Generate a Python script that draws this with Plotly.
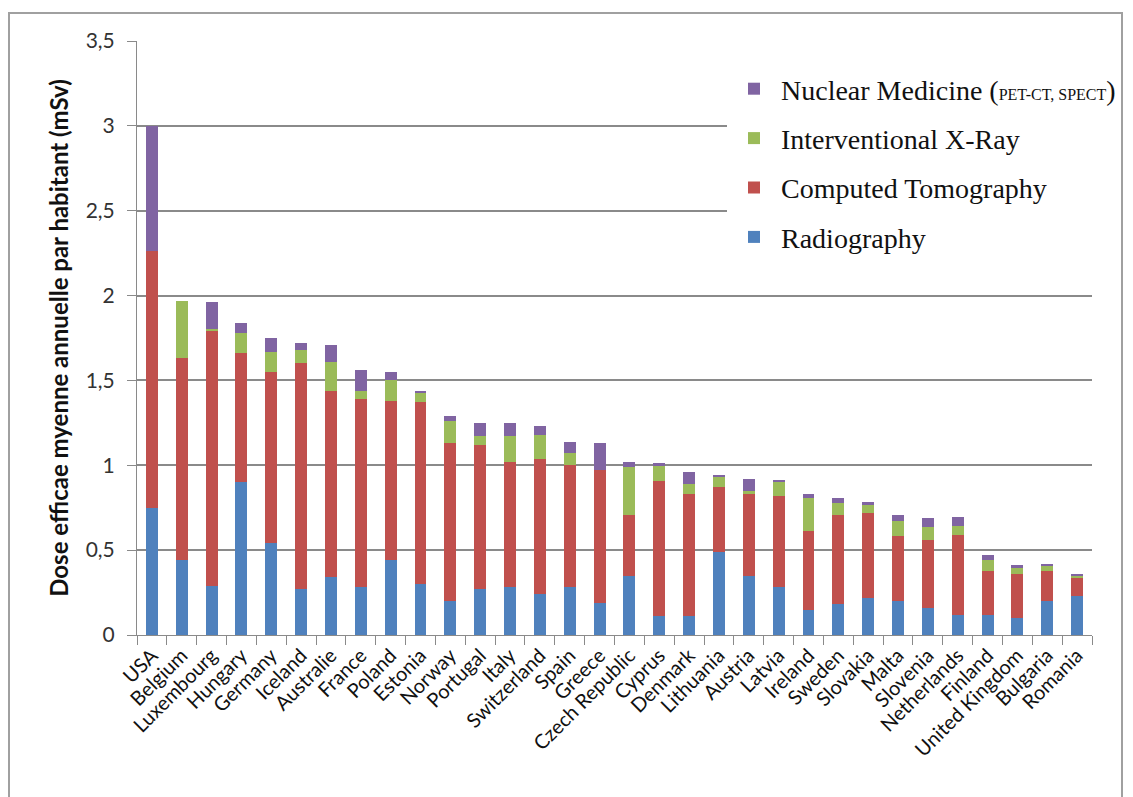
import plotly.graph_objects as go

countries = ["USA", "Belgium", "Luxembourg", "Hungary", "Germany", "Iceland", "Australie", "France",
             "Poland", "Estonia", "Norway", "Portugal", "Italy", "Switzerland", "Spain", "Greece",
             "Czech Republic", "Cyprus", "Denmark", "Lithuania", "Austria", "Latvia", "Ireland", "Sweden",
             "Slovakia", "Malta", "Slovenia", "Netherlands", "Finland", "United Kingdom", "Bulgaria", "Romania"]

radiography = [0.75, 0.44, 0.29, 0.90, 0.54, 0.27, 0.34, 0.28,
               0.44, 0.30, 0.20, 0.27, 0.28, 0.24, 0.28, 0.19,
               0.35, 0.11, 0.11, 0.49, 0.35, 0.28, 0.15, 0.18,
               0.22, 0.20, 0.16, 0.12, 0.12, 0.10, 0.20, 0.23]
computed_tomography = [1.51, 1.19, 1.50, 0.76, 1.01, 1.33, 1.10, 1.11,
                       0.94, 1.07, 0.93, 0.85, 0.74, 0.80, 0.72, 0.78,
                       0.36, 0.80, 0.72, 0.38, 0.48, 0.54, 0.46, 0.53,
                       0.50, 0.385, 0.40, 0.47, 0.26, 0.26, 0.18, 0.11]
interventional = [0.0, 0.34, 0.015, 0.12, 0.12, 0.08, 0.17, 0.05,
                  0.12, 0.06, 0.13, 0.05, 0.15, 0.14, 0.07, 0.0,
                  0.28, 0.085, 0.06, 0.06, 0.02, 0.08, 0.20, 0.07,
                  0.045, 0.085, 0.075, 0.055, 0.06, 0.035, 0.03, 0.008]
nuclear = [0.74, 0.0, 0.155, 0.06, 0.08, 0.04, 0.10, 0.12,
           0.05, 0.01, 0.03, 0.08, 0.08, 0.05, 0.065, 0.16,
           0.03, 0.02, 0.07, 0.015, 0.07, 0.015, 0.02, 0.03,
           0.02, 0.035, 0.055, 0.05, 0.03, 0.02, 0.01, 0.006]

series = [
    ("Radiography", radiography, "#4F81BD", 4),
    ("Computed Tomography", computed_tomography, "#C0504D", 3),
    ("Interventional X-Ray", interventional, "#9BBB59", 2),
    ("Nuclear Medicine (<span style='font-size:16px'>PET-CT, SPECT</span>)", nuclear, "#8064A2", 1),
]

fig = go.Figure()
for i, (name, vals, col, rank) in enumerate(series):
    fig.add_trace(go.Bar(x=countries, y=vals, name=name, legendgroup=f"g{i}", legendrank=rank,
                         marker=dict(color=col, line=dict(width=0))))

# figure is made wider than the window so the legend never pushes the margins
W, H = 1220, 797
OFF = 8  # page body margin
PL, PR, PT, PB = 137, 1092, 41, 635  # plot area in page pixels
L = PL - OFF
T = PT - OFF
R = W + OFF - PR
B = H - T - (PB - PT)
pw, ph = PR - PL, PB - PT

def px_x(p):
    return (p - PL) / pw

def px_y(p):
    return (PB - p) / ph

fig.update_layout(
    width=W, height=H,
    margin=dict(l=L, r=R, t=T, b=B),
    barmode="stack", bargap=0.6,
    separators=", ",
    paper_bgcolor="white", plot_bgcolor="white",
    showlegend=True,
    legend=dict(
        x=px_x(727), xanchor="left", y=px_y(64), yanchor="top",
        bgcolor="white", borderwidth=0,
        traceorder="grouped", tracegroupgap=10, itemwidth=44,
        font=dict(family="Liberation Serif", size=28, color="#111111"),
    ),
    xaxis=dict(
        type="category", tickangle=-45, tickson="boundaries",
        ticks="outside", ticklen=9, tickcolor="#8a8a8a",
        showline=True, linecolor="#8a8a8a", linewidth=1,
        tickfont=dict(family="Lato", size=20, color="#111111"),
        showgrid=False,
    ),
    yaxis=dict(
        range=[0, 3.5], dtick=0.5, tick0=0,
        ticks="outside", ticklen=9, tickcolor="#8a8a8a",
        showline=True, linecolor="#8a8a8a", linewidth=1,
        showgrid=True, gridcolor="#8a8a8a", gridwidth=2,
        zeroline=False,
        tickfont=dict(family="Lato", size=21, color="#333333"),
        ticklabelstandoff=8,
        title=dict(text="<b>Dose efficae myenne annuelle par habitant (mSv)</b>",
                   font=dict(family="Lato", size=24, color="#111111"), standoff=10),
        automargin=False,
    ),
    shapes=[dict(type="rect", xref="paper", yref="paper",
                 x0=px_x(9), x1=px_x(1122), y0=px_y(830), y1=px_y(13),
                 line=dict(color="#a0a0a0", width=2), layer="below")],
)

fig.write_html("out.html")
